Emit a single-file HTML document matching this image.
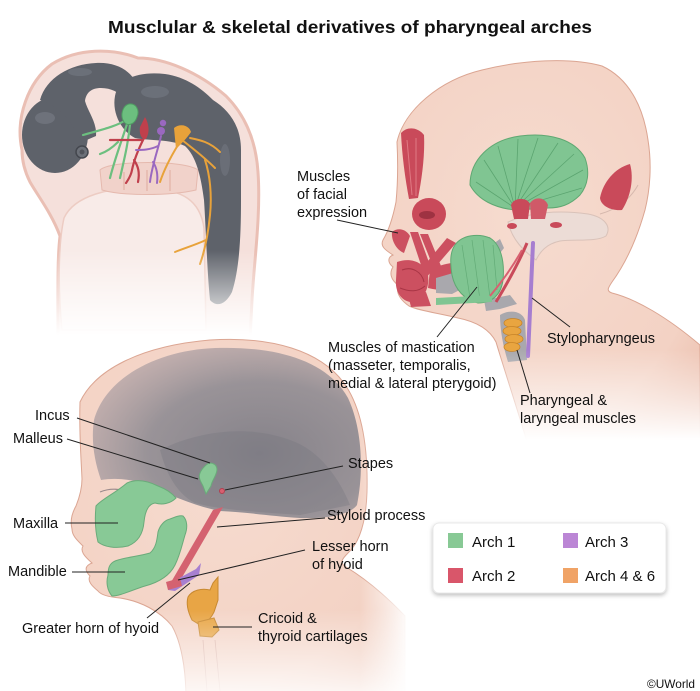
<!DOCTYPE html>
<html><head><meta charset="utf-8">
<style>
html,body{margin:0;padding:0;background:#fff;}
svg{display:block;}
text{font-family:"Liberation Sans",Arial,sans-serif;fill:#111;}
</style></head>
<body>
<svg width="700" height="691" viewBox="0 0 700 691" xmlns="http://www.w3.org/2000/svg">
<defs>
 <radialGradient id="skin" cx="0.45" cy="0.4" r="0.75">
  <stop offset="0" stop-color="#f6dbcf"/>
  <stop offset="0.75" stop-color="#f3d2c4"/>
  <stop offset="1" stop-color="#ebbdab"/>
 </radialGradient>
 <radialGradient id="cran" cx="0.62" cy="0.62" r="0.7">
  <stop offset="0" stop-color="#7b7a83" stop-opacity="0.92"/>
  <stop offset="0.6" stop-color="#89878f" stop-opacity="0.85"/>
  <stop offset="1" stop-color="#ab9da2" stop-opacity="0.65"/>
 </radialGradient>
 <linearGradient id="vTR" gradientUnits="userSpaceOnUse" x1="0" y1="350" x2="0" y2="440">
  <stop offset="0" stop-color="#fff"/><stop offset="1" stop-color="#000"/>
 </linearGradient>
 <mask id="mTR"><rect x="0" y="0" width="700" height="691" fill="url(#vTR)"/></mask>
 <linearGradient id="vEmb" gradientUnits="userSpaceOnUse" x1="0" y1="250" x2="0" y2="335">
  <stop offset="0" stop-color="#fff"/><stop offset="1" stop-color="#000"/>
 </linearGradient>
 <mask id="mEmb"><rect x="0" y="0" width="700" height="691" fill="url(#vEmb)"/></mask>
 <linearGradient id="vBL" gradientUnits="userSpaceOnUse" x1="0" y1="610" x2="0" y2="695">
  <stop offset="0" stop-color="#fff"/><stop offset="1" stop-color="#222"/>
 </linearGradient>
 <mask id="mBL"><rect x="0" y="0" width="700" height="691" fill="url(#vBL)"/></mask>
 <linearGradient id="hBL" gradientUnits="userSpaceOnUse" x1="360" y1="0" x2="410" y2="0">
  <stop offset="0" stop-color="#fff"/><stop offset="1" stop-color="#000"/>
 </linearGradient>
 <mask id="mBL2"><rect x="0" y="0" width="700" height="691" fill="url(#hBL)"/></mask>
 <filter id="sh" x="-10%" y="-20%" width="120%" height="150%">
  <feDropShadow dx="0" dy="2" stdDeviation="2" flood-color="#000" flood-opacity="0.25"/>
 </filter>
</defs>

<!-- Title -->
<text x="350" y="33" text-anchor="middle" font-weight="bold" font-size="17.5" textLength="484" lengthAdjust="spacingAndGlyphs">Musclular &amp; skeletal derivatives of pharyngeal arches</text>

<!-- ========== Embryo ========== -->
<g mask="url(#mEmb)">
 <path d="M22,150 C15,118 28,82 52,64 C78,48 112,48 138,58 C165,58 198,72 226,96 C246,116 256,142 258,172 C261,215 254,262 252,300 L250,340 L58,340 C58,300 57,262 60,236 C52,214 38,196 30,182 C25,172 22,162 22,150 Z" fill="#f5e0db" stroke="#eabfb4" stroke-width="3"/>
 <path d="M64,218 C74,196 110,186 150,188 C182,190 200,200 204,228 L206,330 L62,330 C58,290 58,245 64,218 Z" fill="#f8ebe8" stroke="#edccc3" stroke-width="1.5"/>
 <path d="M100,170 C110,160 185,160 198,170 L196,190 C170,196 122,196 102,190 Z" fill="#f1d2ca" stroke="#e5b9ae" stroke-width="1"/>
 <path d="M124,172 L124,190 M147,170 L147,191 M170,170 L170,191" stroke="#e2b2a7" stroke-width="1.2"/>
 <!-- neural tube -->
 <ellipse cx="55" cy="135" rx="33" ry="38" fill="#5e626a"/>
 <path d="M40,100 C46,78 70,64 96,63 C116,62 130,70 137,84 L126,100 C119,92 111,88 101,88 C91,88 86,93 85,101 C88,112 97,122 96,136 L82,142 C72,122 60,106 40,100 Z" fill="#5e626a"/>
 <path d="M115,96 C118,78 140,71 165,74 C186,77 201,88 213,100 C229,110 241,126 241,150 L241,200 C241,240 239,270 232,292 C226,304 217,308 210,300 C207,270 206,230 204,200 C201,176 196,156 185,146 C170,139 150,141 135,138 C120,130 112,112 115,96 Z" fill="#5e626a"/>
 <ellipse cx="45" cy="118" rx="10" ry="6" fill="#757983" opacity="0.7"/>
 <ellipse cx="155" cy="92" rx="14" ry="6" fill="#757983" opacity="0.6"/>
 <ellipse cx="225" cy="160" rx="5" ry="16" fill="#757983" opacity="0.5"/>
 <ellipse cx="80" cy="72" rx="12" ry="4" fill="#757983" opacity="0.6"/>
 <circle cx="82" cy="152" r="6" fill="#6c7078" stroke="#44474e" stroke-width="1.5"/>
 <circle cx="82" cy="152" r="2.5" fill="#50535a"/>
 <!-- green -->
 <g fill="none" stroke="#6cbf7f" stroke-width="2.2" stroke-linecap="round">
  <path d="M126,120 C115,127 100,130 83,135"/>
  <path d="M127,124 C122,140 115,158 110,178"/>
  <path d="M130,124 C128,145 124,160 120,178"/>
  <path d="M118,142 C112,148 106,152 100,154"/>
 </g>
 <path d="M129,104 C136,103 140,110 137,117 C135,124 128,127 124,122 C120,116 122,106 129,104 Z" fill="#6cbf7f" stroke="#4f9c62"/>
 <!-- red -->
 <g fill="none" stroke="#c0404c" stroke-width="2.2" stroke-linecap="round">
  <path d="M144,138 C138,150 134,160 132,170 C131,176 128,180 126,183"/>
  <path d="M142,140 C130,140 120,140 110,140"/>
  <path d="M134,160 C138,166 140,172 138,182"/>
 </g>
 <path d="M145,117 C149,124 150,132 146,139 C141,140 139,133 140,127 Z" fill="#c0404c"/>
 <!-- purple -->
 <g fill="none" stroke="#9a68c0" stroke-width="2" stroke-linecap="round">
  <path d="M161,136 C158,150 152,165 150,182"/>
  <path d="M158,146 C150,150 142,150 136,150"/>
  <path d="M153,162 C157,168 158,175 157,183"/>
 </g>
 <circle cx="163" cy="123" r="3.2" fill="#9a68c0"/>
 <circle cx="161" cy="131" r="4" fill="#9a68c0"/>
 <!-- orange -->
 <g fill="none" stroke="#e8a23a" stroke-width="2" stroke-linecap="round">
  <path d="M178,145 C170,158 164,170 160,182"/>
  <path d="M182,140 C195,150 205,158 215,168"/>
  <path d="M205,160 C210,175 212,195 210,215 C208,235 205,250 200,264"/>
  <path d="M190,138 C200,140 210,142 220,152"/>
  <path d="M206,240 C195,245 185,248 175,252"/>
 </g>
 <path d="M174,128 C180,123 189,125 191,132 C187,138 181,144 176,149 Z" fill="#e8a23a"/>
</g>

<!-- ========== Top-right head ========== -->
<g mask="url(#mTR)">
 <path d="M397,142 C404,110 440,80 482,70 C522,60 570,57 602,66 C628,78 643,105 648,140 C652,165 650,190 645,210 C638,235 628,260 612,282 C608,288 606,291 612,293 C636,299 667,317 700,345 L700,445 L528,445 C516,405 505,372 496,342 C490,330 478,322 458,318 C438,313 420,311 409,306 C399,299 396,292 398,285 C391,280 389,273 393,267 C387,262 388,257 393,255 C385,250 380,246 383,240 C389,230 393,217 396,202 C398,182 398,162 397,142 Z" fill="url(#skin)" stroke="#dba592" stroke-width="1"/>
 <!-- skull base pale -->
 <path d="M508,222 C530,212 560,210 588,214 C604,217 612,226 606,236 C596,242 575,239 560,241 C546,244 540,252 536,260 C524,251 512,240 508,222 Z" fill="#ecdcd6" stroke="#d9c2b9" stroke-width="1"/>
 <path d="M600,214 C615,210 630,200 638,185" stroke="#d6b8ad" stroke-width="1" fill="none"/>
 <!-- temporalis -->
 <path d="M470,185 C470,160 490,140 520,136 C550,132 575,140 585,158 C590,172 588,185 580,195 C570,205 560,208 548,208 L515,210 C495,208 478,200 470,185 Z" fill="#80c592" stroke="#5fa872" stroke-width="1"/>
 <g stroke="#4f9a65" stroke-width="0.8" opacity="0.75" fill="none">
  <path d="M515,208 L476,182"/><path d="M515,208 L484,160"/><path d="M515,208 L498,146"/>
  <path d="M515,208 L518,139"/><path d="M515,208 L538,138"/><path d="M515,208 L558,143"/>
  <path d="M515,208 L574,154"/><path d="M515,208 L583,170"/><path d="M515,208 L582,188"/>
 </g>
 <!-- auricular -->
 <path d="M511,205 C514,197 527,197 530,204 L528,219 L514,219 Z" fill="#c94a5a"/>
 <path d="M530,203 C535,196 545,197 548,205 L545,219 L531,219 Z" fill="#d05a68"/>
 <ellipse cx="512" cy="226" rx="5" ry="3" fill="#c94a5a"/>
 <ellipse cx="556" cy="225" rx="6" ry="3" fill="#c94a5a"/>
 <!-- occipitalis -->
 <path d="M600,198 C603,182 615,168 630,164 C634,178 631,196 622,210 C611,211 601,206 600,198 Z" fill="#c94a5a"/>
 <!-- frontalis -->
 <path d="M401,133 C407,126 418,127 424,135 C425,155 422,178 418,198 L409,199 C405,178 402,155 401,133 Z" fill="#c94a5a"/>
 <path d="M407,140 L412,195 M416,138 L416,196" stroke="#e07a84" stroke-width="1"/>
 <!-- orbicularis oculi -->
 <ellipse cx="429" cy="214" rx="17" ry="16" fill="#c94a5a"/>
 <ellipse cx="427" cy="215" rx="8" ry="4" fill="#9e3242"/>
 <!-- mouth muscles -->
 <g fill="#cc5060">
  <path d="M392,232 C398,227 406,229 410,236 L404,253 C398,251 391,242 392,232 Z"/>
  <path d="M410,232 L418,232 L431,268 L423,271 Z"/>
  <path d="M420,234 L428,234 L441,266 L434,269 Z"/>
  <path d="M447,238 L456,243 L425,279 L418,273 Z"/>
  <path d="M430,270 C445,262 460,261 470,265 L468,288 C455,291 440,291 428,288 Z"/>
  <path d="M397,262 C410,257 425,262 428,275 C430,290 422,302 410,302 C400,300 395,290 396,280 Z"/>
  <path d="M408,295 L426,292 L431,306 L411,307 Z"/>
 </g>
 <path d="M402,270 C412,266 422,272 424,282 M400,288 C410,292 418,292 425,286" stroke="#a83545" stroke-width="1" fill="none"/>
 <!-- gray bones -->
 <path d="M482,240 L490,237 L493,244 L500,239 L504,248 L497,257 L484,258 Z" fill="#a9a8ad"/>
 <path d="M436,278 L460,271 L469,285 L452,294 L436,293 Z" fill="#a9a8ad"/>
 <path d="M484,300 L510,295 L517,304 L500,309 L486,311 Z" fill="#a9a8ad"/>
 <path d="M500,315 C510,309 522,311 525,320 L527,360 L508,362 C503,346 500,330 500,315 Z" fill="#a9a8ad"/>
 <!-- masseter -->
 <path d="M455,245 C462,235 478,233 490,238 C500,244 505,260 503,280 C501,295 492,303 478,303 C465,300 455,290 452,275 C450,262 450,252 455,245 Z" fill="#80c592" stroke="#5fa872"/>
 <path d="M462,245 L470,298 M472,240 L480,300 M483,240 L490,298 M493,245 L497,290" stroke="#4f9a65" stroke-width="0.7" opacity="0.6"/>
 <!-- green strip -->
 <path d="M436,298 L492,295 L492,302 L436,305 Z" fill="#80c592"/>
 <!-- stylohyoid -->
 <path d="M527,243 C520,260 508,282 496,302" stroke="#c94a5a" stroke-width="3" fill="none"/>
 <path d="M522,250 C512,268 500,284 490,296" stroke="#d86070" stroke-width="2" fill="none"/>
 <!-- stylopharyngeus -->
 <path d="M533,243 C532,270 530,310 528,356" stroke="#a67ed0" stroke-width="4" fill="none" stroke-linecap="round"/>
 <!-- laryngeal orange -->
 <g fill="#e9a540" stroke="#c78428" stroke-width="0.8">
  <ellipse cx="513" cy="323" rx="9" ry="4.5"/>
  <ellipse cx="512" cy="331" rx="9" ry="4.5"/>
  <ellipse cx="514" cy="339" rx="9" ry="4.5"/>
  <ellipse cx="512" cy="347" rx="8" ry="4.5"/>
 </g>
</g>

<!-- ========== Bottom-left head ========== -->
<g mask="url(#mBL)"><g mask="url(#mBL2)">
 <path d="M80,402 C95,370 140,346 210,340 C270,336 322,350 346,386 C363,412 368,452 367,492 C366,522 360,542 348,553 C342,559 339,563 346,567 C366,579 386,596 405,616 L405,700 L186,700 C186,668 181,642 172,626 C160,611 140,601 120,598 C108,597 101,595 98,591 C92,586 87,581 90,576 C85,571 84,566 92,563 C84,556 80,551 83,546 C78,541 72,536 72,529 C70,521 72,513 76,506 C80,496 82,488 82,479 C81,456 79,432 80,402 Z" fill="url(#skin)" stroke="#dba592"/>
 <path d="M94,420 C106,376 160,350 215,348 C275,346 327,360 348,398 C362,428 364,470 357,505 C349,516 322,519 300,518 C270,516 245,512 220,511 C195,506 172,496 150,486 C135,480 118,477 101,480 C94,460 91,440 94,420 Z" fill="url(#cran)"/>
 <path d="M160,450 C200,430 250,425 290,440 C320,450 340,480 350,505 L300,515 C260,512 220,510 195,503 C180,495 168,480 160,450 Z" fill="#76757e" opacity="0.35"/>
 <path d="M100,492 C110,488 122,488 130,494" stroke="#9a8a8c" stroke-width="1.2" fill="none"/>
 <path d="M203,640 L207,691 M215,640 L220,691" stroke="#d9b0a5" stroke-width="0.8"/>
 <!-- maxilla -->
 <path d="M127,483 C138,478 150,482 158,486 C166,489 172,493 176,498 C170,504 162,505 155,503 C148,504 145,512 144,522 C143,534 138,542 128,546 C116,549 104,547 98,542 C95,530 95,516 96,506 C102,499 114,494 127,483 Z" fill="#88c996" stroke="#6aab7a"/>
 <!-- mandible -->
 <path d="M183,516 C187,520 188,527 185,535 C182,545 180,555 175,565 C170,575 160,582 145,586 C132,590 120,596 112,596 C107,590 106,582 108,575 C108,567 110,562 118,560 C128,557 140,556 150,553 C156,548 157,540 158,532 C160,525 165,520 170,519 C175,517 180,515 183,516 Z" fill="#88c996" stroke="#6aab7a"/>
 <!-- ossicles -->
 <path d="M205,466 C210,461 217,463 217,470 C216,477 212,480 211,486 L206,494 L203,486 C201,482 198,478 200,473 C201,470 203,468 205,466 Z" fill="#88c996" stroke="#6aab7a"/>
 <circle cx="222" cy="491" r="2.5" fill="#d86070" stroke="#b04050"/>
 <!-- styloid -->
 <path d="M213,510 L223,507 L177,586 L170,584 Z" fill="#d46270"/>
 <!-- greater horn purple -->
 <path d="M170,583 L196,569 L201,563 L199,575 L175,591 L168,590 Z" fill="#a77fd0"/>
 <path d="M166,582 L180,578 L182,586 L168,590 Z" fill="#d46270"/>
 <!-- thyroid & cricoid -->
 <path d="M188,597 C192,590 202,588 210,590 L213,583 L218,577 L218,600 L214,612 C210,620 205,624 200,625 L192,620 C188,612 186,604 188,597 Z" fill="#e8a545" stroke="#c88930"/>
 <path d="M198,622 L214,618 L219,630 L212,637 L200,636 Z" fill="#e8a545" stroke="#c88930"/>
</g></g>

<!-- ========== Leader lines ========== -->
<g stroke="#222" stroke-width="1" fill="none">
 <path d="M337,220 L398,233"/>
 <path d="M437,337 L477,287"/>
 <path d="M570,327 L532,298"/>
 <path d="M530,393 L517,350"/>
 <path d="M77,418 L210,463"/>
 <path d="M67,439 L198,479"/>
 <path d="M343,466 L225,490"/>
 <path d="M65,523 L118,523"/>
 <path d="M325,518 L217,527"/>
 <path d="M305,550 L178,580"/>
 <path d="M72,572 L125,572"/>
 <path d="M147,618 L190,583"/>
 <path d="M252,627 L213,627"/>
</g>

<!-- ========== Labels ========== -->
<g font-size="14.5">
 <text x="297" y="181">Muscles</text>
 <text x="297" y="199">of facial</text>
 <text x="297" y="217">expression</text>
 <text x="328" y="352">Muscles of mastication</text>
 <text x="328" y="370">(masseter, temporalis,</text>
 <text x="328" y="388">medial &amp; lateral pterygoid)</text>
 <text x="547" y="343">Stylopharyngeus</text>
 <text x="520" y="405">Pharyngeal &amp;</text>
 <text x="520" y="423">laryngeal muscles</text>
 <text x="35" y="420">Incus</text>
 <text x="13" y="443">Malleus</text>
 <text x="348" y="468">Stapes</text>
 <text x="13" y="528">Maxilla</text>
 <text x="327" y="520">Styloid process</text>
 <text x="312" y="551">Lesser horn</text>
 <text x="312" y="569">of hyoid</text>
 <text x="8" y="576">Mandible</text>
 <text x="22" y="633">Greater horn of hyoid</text>
 <text x="258" y="623">Cricoid &amp;</text>
 <text x="258" y="641">thyroid cartilages</text>
</g>

<!-- ========== Legend ========== -->
<rect x="433" y="523" width="233" height="70" rx="6" fill="#fff" stroke="#e8e8e8" filter="url(#sh)"/>
<rect x="448" y="533" width="15" height="15" fill="#88c995"/>
<rect x="448" y="568" width="15" height="15" fill="#d9566a"/>
<rect x="563" y="533" width="15" height="15" fill="#bb86d5"/>
<rect x="563" y="568" width="15" height="15" fill="#f0a366"/>
<g font-size="15">
 <text x="472" y="547">Arch 1</text>
 <text x="472" y="581">Arch 2</text>
 <text x="585" y="547">Arch 3</text>
 <text x="585" y="581">Arch 4 &amp; 6</text>
</g>
<text x="647" y="688" font-size="12" textLength="48" lengthAdjust="spacingAndGlyphs">©UWorld</text>
</svg>
</body></html>
